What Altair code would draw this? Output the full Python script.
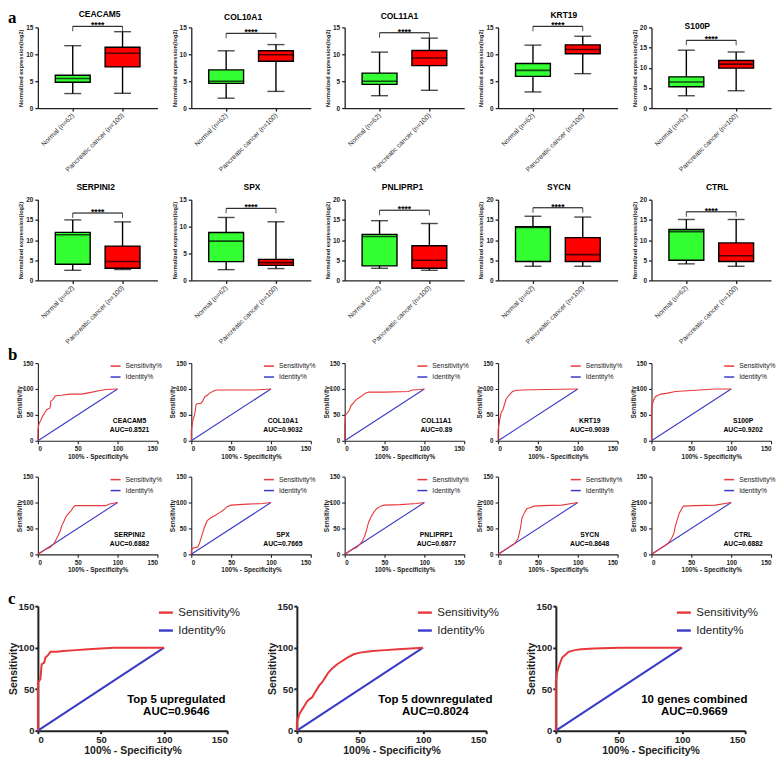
import altair as alt
import pandas as pd

FONT = "Liberation Sans"

# ---------------- data ----------------
groups = ["Normal (n=62)", "Pancreatic cancer (n=100)"]
box_colors = ["#33ff33", "#ff0000"]

row1_genes = ["CEACAM5", "COL10A1", "COL11A1", "KRT19", "S100P"]
row2_genes = ["SERPINI2", "SPX", "PNLIPRP1", "SYCN", "CTRL"]

# [min, q1, median, q3, max]
normal_stats = {
    "CEACAM5": [2.7, 4.8, 5.5, 6.1, 11.6],
    "COL10A1": [1.84, 4.6, 5.0, 7.1, 10.65],
    "COL11A1": [2.3, 4.4, 5.0, 6.5, 10.4],
    "KRT19": [3.0, 5.9, 7.0, 8.3, 11.7],
    "S100P": [3.06, 5.3, 6.45, 7.74, 14.35],
    "SERPINI2": [2.5, 4.0, 11.3, 11.9, 15.0],
    "SPX": [2.0, 3.5, 7.3, 8.9, 11.7],
    "PNLIPRP1": [3.0, 3.6, 10.9, 11.4, 14.8],
    "SYCN": [3.5, 4.7, 13.1, 13.3, 15.9],
    "CTRL": [4.1, 5.0, 12.1, 12.6, 15.1],
}
cancer_stats = {
    "CEACAM5": [2.75, 7.65, 10.2, 11.3, 14.2],
    "COL10A1": [3.1, 8.7, 9.9, 10.65, 11.8],
    "COL11A1": [3.3, 7.9, 9.3, 10.7, 13.0],
    "KRT19": [6.4, 10.1, 10.9, 11.75, 13.35],
    "S100P": [4.3, 9.9, 10.9, 11.8, 13.9],
    "SERPINI2": [2.7, 3.0, 4.7, 8.5, 14.5],
    "SPX": [2.2, 2.8, 3.3, 3.9, 10.9],
    "PNLIPRP1": [2.5, 3.0, 5.0, 8.6, 14.1],
    "SYCN": [3.5, 4.7, 6.4, 10.6, 15.7],
    "CTRL": [3.5, 4.7, 6.1, 9.3, 15.1],
}
y_top = {"CEACAM5": 15, "COL10A1": 15, "COL11A1": 15, "KRT19": 15, "S100P": 20,
         "SERPINI2": 20, "SPX": 15, "PNLIPRP1": 20, "SYCN": 20, "CTRL": 20}
bracket_y = {"CEACAM5": 15.2, "COL10A1": 13.9, "COL11A1": 14.0, "KRT19": 15.2, "S100P": 16.8,
             "SERPINI2": 16.7, "SPX": 13.4, "PNLIPRP1": 17.4, "SYCN": 18.0, "CTRL": 17.0}
stars = "****"

series_names = ["Sensitivity%", "Identity%"]
series_colors = ["#e8383a", "#3a3ac8"]
identity_x = [0, 100]
identity_y = [0, 100]

roc_x = {
    "CEACAM5": [0, 0, 1, 2, 4, 5, 7, 9, 11, 15, 16, 16, 19, 22, 30, 40, 55, 65, 75, 85, 100],
    "COL10A1": [0, 0, 1, 2, 3, 4, 5, 6, 8, 12, 14, 17, 20, 23, 28, 32, 50, 80, 90, 100],
    "COL11A1": [0, 0, 1, 4, 6, 8, 12, 15, 20, 26, 30, 50, 80, 85, 95, 100],
    "KRT19": [0, 0, 2, 4, 6, 8, 10, 12, 15, 18, 22, 30, 60, 100],
    "S100P": [0, 0, 1, 3, 5, 8, 12, 20, 30, 40, 60, 80, 100],
    "SERPINI2": [0, 5, 10, 15, 20, 22, 25, 28, 30, 33, 35, 38, 42, 45, 47, 60, 85, 90, 100],
    "SPX": [0, 0, 2, 8, 10, 12, 14, 16, 18, 20, 24, 30, 35, 40, 45, 50, 70, 90, 100],
    "PNLIPRP1": [0, 5, 10, 15, 18, 22, 25, 28, 30, 33, 36, 40, 45, 50, 70, 90, 100],
    "SYCN": [0, 5, 10, 15, 20, 25, 28, 30, 33, 36, 40, 45, 55, 80, 100],
    "CTRL": [0, 5, 10, 15, 20, 25, 28, 30, 33, 35, 38, 40, 55, 80, 100],
    "Top 5 upregulated": [0, 0, 1, 2, 3, 5, 6, 8, 10, 15, 20, 30, 40, 50, 60, 100],
    "Top 5 downregulated": [0, 0, 2, 4, 6, 8, 10, 12, 14, 16, 18, 20, 22, 25, 28, 32, 35, 40, 45, 50, 60, 70, 80, 100],
    "10 genes combined": [0, 0, 1, 3, 5, 8, 10, 15, 20, 30, 50, 100],
}
roc_y = {
    "CEACAM5": [0, 20, 30, 35, 40, 45, 50, 55, 60, 63, 70, 76, 80, 87, 88, 90, 90, 93, 96, 99, 100],
    "COL10A1": [0, 20, 28, 40, 45, 50, 58, 70, 72, 72, 76, 85, 88, 92, 96, 98, 98, 98, 99, 100],
    "COL11A1": [0, 30, 50, 55, 60, 68, 75, 80, 85, 92, 94, 94, 95, 98, 99, 100],
    "KRT19": [0, 20, 40, 55, 60, 70, 80, 85, 90, 95, 97, 98, 99, 100],
    "S100P": [0, 60, 70, 80, 85, 88, 90, 92, 95, 96, 98, 100, 100],
    "SERPINI2": [0, 5, 10, 13, 20, 26, 35, 45, 55, 65, 72, 78, 85, 92, 94, 94, 94, 97, 100],
    "SPX": [0, 8, 12, 14, 20, 30, 40, 50, 58, 65, 70, 75, 80, 85, 92, 95, 97, 98, 100],
    "PNLIPRP1": [0, 5, 10, 13, 18, 25, 35, 50, 62, 72, 80, 88, 93, 95, 96, 98, 100],
    "SYCN": [0, 5, 10, 15, 20, 30, 50, 70, 80, 88, 90, 93, 94, 95, 100],
    "CTRL": [0, 5, 10, 15, 20, 30, 40, 55, 70, 80, 88, 93, 94, 95, 100],
    "Top 5 upregulated": [0, 58, 60, 62, 80, 82, 88, 91, 95, 95, 96, 97, 98, 99, 100, 100],
    "Top 5 downregulated": [0, 10, 20, 25, 30, 35, 38, 40, 45, 50, 55, 58, 63, 70, 75, 80, 83, 88, 92, 94, 96, 97, 98, 100],
    "10 genes combined": [0, 60, 70, 80, 88, 92, 95, 97, 98, 99, 100, 100],
}
auc = {
    "CEACAM5": "0.8521", "COL10A1": "0.9032", "COL11A1": "0.89", "KRT19": "0.9039", "S100P": "0.9202",
    "SERPINI2": "0.6882", "SPX": "0.7665", "PNLIPRP1": "0.6877", "SYCN": "0.8648", "CTRL": "0.6882",
    "Top 5 upregulated": "0.9646", "Top 5 downregulated": "0.8024", "10 genes combined": "0.9669",
}
combined_sets = ["Top 5 upregulated", "Top 5 downregulated", "10 genes combined"]

# ---------------- styling / layout ----------------
row1_title_x = [62, 52, 55, 66, 46]
row1_title_y = [-13, -10, -11, -12, -1]
row2_title_x = [58, 61, 58, 61, 66]
row2_title_y = [-13, -13, -13, -13, -13]

W_A, H_A = 120, 81
W_B, H_B = 120, 78
W_C, H_C = 190, 125
GAP_AB = 34
GAP_C = 70
LETTER_X = -30
# reserved space above / below each row's plot area (pixels)
EXT = {"A1": (18, 70), "A2": (22, 66), "B1": (17, 20), "B2": (16, 21), "C": (31, 26)}


def frame_layer(key, h):
    top, bot = EXT[key]
    return alt.Chart(pd.DataFrame({"t": [0]})).mark_rule(opacity=0, strokeWidth=1).encode(
        x=alt.value(0), y=alt.value(-top), y2=alt.value(h + bot))


def letter_layer(ch, dy):
    return alt.Chart(pd.DataFrame({"t": [ch]})).mark_text(
        font="Liberation Serif", fontWeight="bold", fontSize=17, align="left",
        baseline="middle", color="black"
    ).encode(x=alt.value(LETTER_X), y=alt.value(dy), text="t:N")


def box_panel(gene, tx, ty, letter=None, frame=None):
    n, c = normal_stats[gene], cancer_stats[gene]
    df = pd.DataFrame({
        "group": groups,
        "lo": [n[0], c[0]], "q1": [n[1], c[1]], "med": [n[2], c[2]],
        "q3": [n[3], c[3]], "hi": [n[4], c[4]],
    })
    top = y_top[gene]
    ysc = alt.Scale(domain=[0, top], nice=False, zero=True)
    yax = alt.Axis(title="Normalized expression(log2)", values=list(range(0, top + 1, 5)),
                   grid=False, domainColor="#222", domainWidth=1.3, tickColor="#222",
                   tickWidth=1.3, tickSize=3, labelFontSize=6.5, labelFontWeight="bold",
                   labelColor="#222", labelPadding=2, titleFontSize=5.7,
                   titleFontWeight="bold", titleColor="#222", titlePadding=2)
    xsc = alt.Scale(type="point", padding=0.7, domain=groups)
    xax = alt.Axis(title=None, labelAngle=-45, labelAlign="right", labelBaseline="middle",
                   labelFontSize=6.8, labelColor="#333", labelPadding=3, domainColor="#222",
                   domainWidth=1.3, tickColor="#222", tickWidth=1.3, tickSize=3)

    def X(f="group"):
        return alt.X(f"{f}:N", scale=xsc, axis=xax, sort=groups)

    def Y(f):
        return alt.Y(f"{f}:Q", scale=ysc, axis=yax)

    base = alt.Chart(df)
    layers = [
        base.mark_rule(color="black", strokeWidth=1.4).encode(x=X(), y=Y("lo"), y2="hi:Q"),
        base.mark_bar(size=35, stroke="black", strokeWidth=1.4).encode(
            x=X(), y=Y("q1"), y2="q3:Q",
            color=alt.Color("group:N", scale=alt.Scale(domain=groups, range=box_colors), legend=None)),
        base.mark_tick(color="black", size=35, thickness=1.6).encode(x=X(), y=Y("med")),
        base.mark_tick(color="black", size=17, thickness=1.4).encode(x=X(), y=Y("lo")),
        base.mark_tick(color="black", size=17, thickness=1.4).encode(x=X(), y=Y("hi")),
    ]
    bdf = pd.DataFrame({"g1": [groups[0]], "g2": [groups[1]], "b": [bracket_y[gene]], "s": [stars]})
    edf = pd.DataFrame({"group": groups, "b": [bracket_y[gene]] * 2})
    layers += [
        alt.Chart(bdf).mark_rule(color="black", strokeWidth=1).encode(x=X("g1"), x2="g2:N", y=Y("b")),
        alt.Chart(edf).mark_tick(orient="vertical", color="black", size=5, thickness=1,
                                 yOffset=2.5).encode(x=X(), y=Y("b")),
        alt.Chart(bdf).mark_text(dx=25, dy=2, baseline="alphabetic", fontSize=8.5,
                                 fontWeight="bold", color="black").encode(x=X("g1"), y=Y("b"), text="s:N"),
        alt.Chart(pd.DataFrame({"t": [gene]})).mark_text(
            fontSize=8.5, fontWeight="bold", color="black", baseline="middle", align="center"
        ).encode(x=alt.value(tx), y=alt.value(ty), text="t:N"),
    ]
    if letter:
        layers.append(letter_layer(letter, -9))
    if frame:
        layers.append(frame_layer(frame, H_A))
    return alt.layer(*layers).properties(width=W_A, height=H_A)


def roc_panel(name, big=False, letter=None, frame=None):
    if big:
        w, h = W_C, H_C
        lab_fs, tit_fs, leg_fs, auc_fs = 9.5, 10.5, 11.5, 11.5
        dw, tsz = 2, 3
        lx, ly, sym, rp = 120, -2, 196, 4
        axp, ayp, lh = 139, 94.5, 11.5
        lw = 2
        ytp, xtp, lp = 0, 1, 1
    else:
        w, h = W_B, H_B
        lab_fs, tit_fs, leg_fs, auc_fs = 6.3, 6.5, 6.8, 6.8
        dw, tsz = 1.1, 3
        lx, ly, sym, rp = 72, -3, 100, 1
        axp, ayp, lh = 92, 58.5, 9
        lw = 1.1
        ytp, xtp, lp = 0, 1, 2
    sdf = pd.DataFrame({"x": roc_x[name], "y": roc_y[name], "series": series_names[0],
                        "i": list(range(len(roc_x[name])))})
    idf = pd.DataFrame({"x": identity_x, "y": identity_y, "series": series_names[1], "i": [0, 1]})
    xsc = alt.Scale(domain=[0, 150], nice=False)
    ysc = alt.Scale(domain=[0, 150], nice=False)
    common = dict(grid=False, values=[0, 50, 100, 150], domainColor="#222", domainWidth=dw,
                  tickColor="#222", tickWidth=dw, tickSize=tsz, labelFontSize=lab_fs,
                  labelFontWeight="bold", labelColor="#222", labelPadding=lp,
                  titleFontSize=tit_fs, titleFontWeight="bold", titleColor="#222")
    X = alt.X("x:Q", scale=xsc, axis=alt.Axis(title="100% - Specificity%", titlePadding=xtp, **common))
    Y = alt.Y("y:Q", scale=ysc, axis=alt.Axis(title="Sensitivity", titlePadding=ytp, **common))
    color = alt.Color("series:N", scale=alt.Scale(domain=series_names, range=series_colors),
                      legend=alt.Legend(orient="none", legendX=lx, legendY=ly, title=None,
                                        direction="vertical", symbolType="stroke",
                                        symbolSize=sym, symbolStrokeWidth=lw + 0.4,
                                        labelFont=FONT, labelFontSize=leg_fs, labelColor="#222",
                                        rowPadding=rp, padding=0, labelOffset=4))
    label = name + "\nAUC=" + auc[name]
    layers = [
        alt.Chart(idf).mark_line(strokeWidth=lw).encode(x=X, y=Y, color=color, order="i:Q"),
        alt.Chart(sdf).mark_line(strokeWidth=lw).encode(x=X, y=Y, color=color, order="i:Q"),
        alt.Chart(pd.DataFrame({"t": [label]})).mark_text(
            fontSize=auc_fs, fontWeight="bold", color="black", align="center",
            baseline="middle", lineBreak="\n", lineHeight=lh
        ).encode(x=alt.value(axp), y=alt.value(ayp), text="t:N"),
    ]
    if letter:
        layers.append(letter_layer(letter, -8 if not big else -7))
    if frame:
        layers.append(frame_layer(frame, h))
    return alt.layer(*layers).properties(width=w, height=h)


def hrow(panels, spacing):
    return alt.hconcat(*panels, spacing=spacing, bounds="flush").resolve_scale(
        color="independent").resolve_legend(color="independent")


rowA1 = hrow([box_panel(g, row1_title_x[i], row1_title_y[i], "a" if i == 0 else None,
                        "A1" if i == 0 else None) for i, g in enumerate(row1_genes)], GAP_AB)
rowA2 = hrow([box_panel(g, row2_title_x[i], row2_title_y[i], None, "A2" if i == 0 else None)
              for i, g in enumerate(row2_genes)], GAP_AB)
rowB1 = hrow([roc_panel(g, letter="b" if i == 0 else None, frame="B1" if i == 0 else None)
              for i, g in enumerate(row1_genes)], GAP_AB)
rowB2 = hrow([roc_panel(g, frame="B2" if i == 0 else None) for i, g in enumerate(row2_genes)], GAP_AB)
rowC = hrow([roc_panel(g, big=True, letter="c" if i == 0 else None, frame="C" if i == 0 else None)
             for i, g in enumerate(combined_sets)], GAP_C)

chart = alt.vconcat(
    rowA1, rowA2, rowB1, rowB2, rowC, spacing=0
).resolve_scale(color="independent").resolve_legend(color="independent").properties(
    padding=0
).configure(font=FONT, background="white").configure_view(stroke=None, strokeWidth=0)

chart.save("out.html", embed_options={"renderer": "svg", "actions": False})
